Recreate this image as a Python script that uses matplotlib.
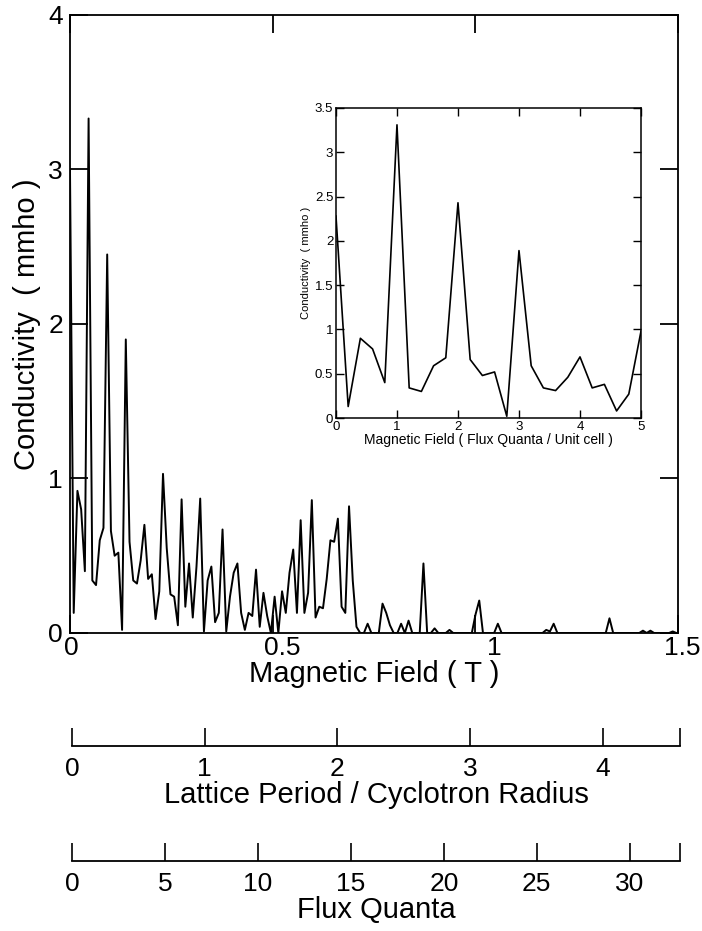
import numpy as np
import matplotlib
matplotlib.use('Agg')
import matplotlib.pyplot as plt
import matplotlib.transforms as mtransforms

plt.rcParams['font.family'] = ['Liberation Sans', 'DejaVu Sans']

# ---------------- data ----------------
# main curve: conductivity (mmho) sampled every 0.2 flux quanta per unit cell
main_cond = [
    3.00, 0.13, 0.92, 0.80, 0.40, 3.33, 0.34, 0.31, 0.60, 0.68,
    2.45, 0.66, 0.50, 0.52, 0.02, 1.90, 0.59, 0.34, 0.32, 0.47,
    0.70, 0.35, 0.38, 0.09, 0.27, 1.03, 0.55, 0.25, 0.235, 0.05,
    0.865, 0.17, 0.45, 0.10, 0.43, 0.87, 0.01, 0.34, 0.43, 0.07,
    0.13, 0.67, 0.01, 0.235, 0.39, 0.45, 0.13, 0.02, 0.13, 0.11,
    0.41, 0.04, 0.26, 0.11, 0.00, 0.235, 0.00, 0.27, 0.13, 0.39,
    0.54, 0.13, 0.73, 0.13, 0.26, 0.86, 0.10, 0.17, 0.16, 0.35,
    0.60, 0.59, 0.74, 0.17, 0.13, 0.82, 0.34, 0.04, 0.00, 0.00,
    0.06, 0.00, 0.00, 0.00, 0.19, 0.13, 0.05, 0.00, 0.00, 0.06,
    0.00, 0.08, 0.00, 0.00, 0.00, 0.45, 0.00, 0.00, 0.03, 0.00,
    0.00, 0.00, 0.02, 0.00, 0.00, 0.00, 0.00, 0.00, 0.00, 0.12,
    0.21, 0.00, 0.00, 0.00, 0.00, 0.06, 0.00, 0.00, 0.00, 0.00,
    0.00, 0.00, 0.00, 0.00, 0.00, 0.00, 0.00, 0.00, 0.02, 0.01,
    0.06, 0.00, 0.00, 0.00, 0.00, 0.00, 0.00, 0.00, 0.00, 0.00,
    0.00, 0.00, 0.00, 0.00, 0.00, 0.095, 0.00, 0.00, 0.00, 0.00,
    0.00, 0.00, 0.00, 0.00, 0.015, 0.00, 0.015, 0.00, 0.00, 0.00,
    0.00, 0.00, 0.01, 0.00,
]
field_step_T = 0.00918          # tesla per 0.2 flux quanta / unit cell
main_B = np.arange(len(main_cond)) * field_step_T

# inset: conductivity vs flux quanta per unit cell
inset_fq = [0.0, 0.2, 0.4, 0.6, 0.8, 1.0, 1.2, 1.4, 1.6, 1.8, 2.0, 2.2, 2.4,
            2.6, 2.8, 3.0, 3.2, 3.4, 3.6, 3.8, 4.0, 4.2, 4.4, 4.6, 4.8, 5.0]
inset_cond = [2.28, 0.13, 0.90, 0.78, 0.40, 3.31, 0.34, 0.30, 0.59, 0.68,
              2.43, 0.66, 0.48, 0.52, 0.02, 1.89, 0.59, 0.34, 0.31, 0.46,
              0.69, 0.34, 0.38, 0.08, 0.27, 0.98]

main_xticks = [0, 0.5, 1, 1.5]
main_xticklabels = ['0', '0.5', '1', '1.5']
main_yticks = [0, 1, 2, 3, 4]
inset_xticks = [0, 1, 2, 3, 4, 5]
inset_yticks = [0, 0.5, 1, 1.5, 2, 2.5, 3, 3.5]
inset_yticklabels = ['0', '0.5', '1', '1.5', '2', '2.5', '3', '3.5']

lattice_ticks = [0, 1, 2, 3, 4]
lattice_max = 4.58
flux_ticks = [0, 5, 10, 15, 20, 25, 30]
flux_max = 32.7

# ---------------- figure ----------------
fig = plt.figure(figsize=(7.02, 9.31), dpi=100)
FS_TICK = 19
FS_LAB = 21
LW = 1.4

ax = fig.add_axes([0.0997, 0.3201, 0.866, 0.6638])
ax.plot(main_B, main_cond, color='black', lw=LW)
ax.set_xlim(0, 1.5)
ax.set_ylim(0, 4)
ax.set_xticks(main_xticks)
ax.set_xticklabels(main_xticklabels)
ax.set_yticks(main_yticks)
ax.tick_params(direction='in', length=13, width=1.3, top=True, right=True,
               labelsize=FS_TICK, pad=5)
ax.tick_params(axis='x', pad=2)
ax.set_xlabel('Magnetic Field ( T )', fontsize=FS_LAB, labelpad=0)
ax.set_ylabel('Conductivity  ( mmho )', fontsize=FS_LAB, labelpad=5)
for s in ax.spines.values():
    s.set_linewidth(1.3)
# the printed x tick labels sit slightly right of their ticks
label_shift_pt = [1, 7, 14, 3]
for lab, dx in zip(ax.get_xticklabels(), label_shift_pt):
    lab.set_transform(lab.get_transform() +
                      mtransforms.ScaledTranslation(dx / 72, 0, fig.dpi_scale_trans))

# inset
ins = fig.add_axes([0.4786, 0.551, 0.4345, 0.333])
ins.plot(inset_fq, inset_cond, color='black', lw=1.2)
ins.set_xlim(0, 5)
ins.set_ylim(0, 3.5)
ins.set_xticks(inset_xticks)
ins.set_yticks(inset_yticks)
ins.set_yticklabels(inset_yticklabels)
ins.tick_params(direction='in', length=6, width=1.0, top=True, right=True,
                labelsize=9.5, pad=2)
ins.set_xlabel('Magnetic Field ( Flux Quanta / Unit cell )', fontsize=10,
               labelpad=0)
ins.set_ylabel('Conductivity  ( mmho )', fontsize=8, labelpad=3)
for s in ins.spines.values():
    s.set_linewidth(1.1)


def scale_axis(ypos, ticks, vmax, label):
    a = fig.add_axes([0.1026, ypos, 0.866, 0.001])
    a.set_facecolor('none')
    for k in ['left', 'right', 'top']:
        a.spines[k].set_visible(False)
    a.spines['bottom'].set_linewidth(1.3)
    a.set_xlim(0, vmax)
    a.set_yticks([])
    a.set_xticks(list(ticks) + [vmax])
    a.set_xticklabels([str(t) for t in ticks] + [''])
    a.tick_params(axis='x', direction='in', length=13, width=1.2,
                  labelsize=FS_TICK, pad=8)
    a.set_xlabel(label, fontsize=FS_LAB, labelpad=0)
    return a


scale_axis(0.1987, lattice_ticks, lattice_max, 'Lattice Period / Cyclotron Radius')
scale_axis(0.0752, flux_ticks, flux_max, 'Flux Quanta')

fig.savefig('out.png', dpi=100)
